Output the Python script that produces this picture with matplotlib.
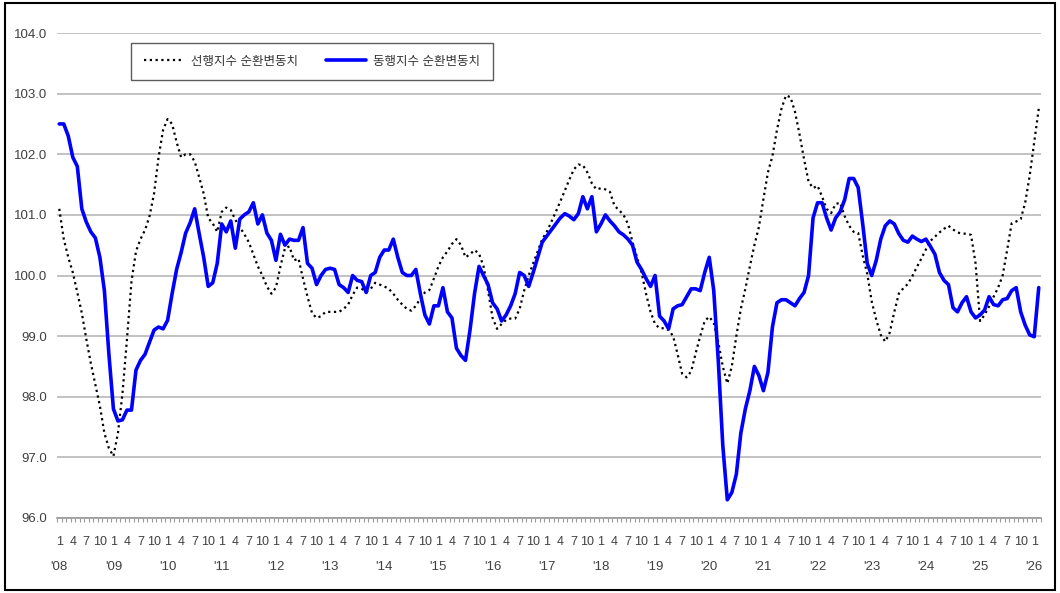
import matplotlib
matplotlib.use('Agg')
import matplotlib.pyplot as plt
import matplotlib.transforms as mtransforms
from matplotlib import font_manager
from matplotlib.patches import Rectangle
import numpy as np

# 좁은 글꼴이 있으면 사용, 없으면 Liberation Sans
installed = {f.name for f in font_manager.fontManager.ttflist}
narrow = 'Liberation Sans Narrow' if 'Liberation Sans Narrow' in installed else 'Liberation Sans'
tick_size = 10.5 if narrow == 'Liberation Sans Narrow' else 9
plt.rcParams['font.family'] = [narrow, 'Noto Sans CJK KR', 'DejaVu Sans']

# 월별 순환변동치, 2008.1 ~ 2026.2
start_year = 2008
leading_label = '선행지수 순환변동치'
coincident_label = '동행지수 순환변동치'

leading = [
    101.1, 100.6, 100.3, 100.05, 99.72, 99.38, 98.95, 98.55, 98.2, 97.85, 97.4, 97.15,      # 2008
    97.02, 97.4, 98.05, 98.95, 99.9, 100.4, 100.6, 100.75, 100.98, 101.35, 101.95, 102.4,    # 2009
    102.58, 102.5, 102.2, 101.95, 102.0, 102.0, 101.88, 101.62, 101.35, 100.95, 100.86, 100.72,  # 2010
    101.05, 101.12, 101.08, 100.92, 100.8, 100.68, 100.55, 100.35, 100.15, 100.0, 99.82, 99.7,  # 2011
    99.8, 100.15, 100.45, 100.48, 100.25, 100.28, 99.95, 99.65, 99.38, 99.3, 99.33, 99.4,   # 2012
    99.4, 99.4, 99.4, 99.45, 99.52, 99.68, 99.8, 99.78, 99.73, 99.78, 99.88, 99.85,        # 2013
    99.82, 99.78, 99.7, 99.6, 99.52, 99.45, 99.42, 99.5, 99.62, 99.72, 99.76, 99.95,       # 2014
    100.15, 100.3, 100.4, 100.52, 100.6, 100.5, 100.3, 100.35, 100.42, 100.36, 100.15, 99.75,  # 2015
    99.3, 99.12, 99.2, 99.27, 99.29, 99.29, 99.45, 99.75, 100.0, 100.2, 100.4, 100.6,      # 2016
    100.72, 100.88, 101.05, 101.22, 101.4, 101.58, 101.75, 101.83, 101.82, 101.7, 101.52, 101.42,  # 2017
    101.44, 101.42, 101.38, 101.15, 101.08, 101.0, 100.85, 100.55, 100.3, 100.05, 99.7, 99.4,  # 2018
    99.2, 99.13, 99.13, 99.1, 99.0, 98.7, 98.38, 98.32, 98.42, 98.72, 99.0, 99.25,         # 2019
    99.32, 99.22, 98.9, 98.5, 98.22, 98.5, 99.0, 99.45, 99.78, 100.15, 100.5, 100.8,       # 2020
    101.26, 101.7, 101.97, 102.4, 102.75, 102.97, 102.94, 102.7, 102.33, 101.92, 101.55, 101.44,  # 2021
    101.48, 101.3, 101.1, 101.03, 101.18, 101.2, 100.98, 100.82, 100.72, 100.7, 100.33, 100.03,  # 2022
    99.57, 99.27, 99.02, 98.91, 99.06, 99.4, 99.7, 99.79, 99.86, 99.99, 100.14, 100.28,     # 2023
    100.43, 100.57, 100.64, 100.71, 100.77, 100.82, 100.76, 100.71, 100.69, 100.69, 100.67, 100.2,  # 2024
    99.25, 99.35, 99.49, 99.65, 99.8, 100.0, 100.42, 100.86, 100.89, 100.93, 101.2, 101.65,  # 2025
    102.2, 102.75,                                                                           # 2026
]

coincident = [
    102.5, 102.5, 102.3, 101.95, 101.8, 101.1, 100.88, 100.72, 100.62, 100.3, 99.75, 98.7,  # 2008
    97.8, 97.6, 97.62, 97.78, 97.78, 98.44, 98.6, 98.7, 98.9, 99.1, 99.15, 99.12,           # 2009
    99.26, 99.7, 100.1, 100.38, 100.7, 100.87, 101.1, 100.69, 100.3, 99.82, 99.88, 100.2,   # 2010
    100.85, 100.72, 100.9, 100.45, 100.93, 101.0, 101.05, 101.2, 100.85, 101.0, 100.7, 100.58,  # 2011
    100.25, 100.68, 100.5, 100.6, 100.58, 100.58, 100.79, 100.2, 100.12, 99.85, 100.0, 100.1,  # 2012
    100.12, 100.1, 99.85, 99.8, 99.72, 100.0, 99.92, 99.9, 99.72, 100.0, 100.05, 100.3,     # 2013
    100.42, 100.42, 100.6, 100.3, 100.05, 100.0, 100.0, 100.1, 99.7, 99.35, 99.2, 99.5,     # 2014
    99.5, 99.8, 99.4, 99.3, 98.8, 98.68, 98.6, 99.1, 99.7, 100.15, 100.0, 99.85,            # 2015
    99.55, 99.45, 99.25, 99.35, 99.5, 99.7, 100.05, 100.0, 99.82, 100.05, 100.3, 100.55,    # 2016
    100.65, 100.75, 100.85, 100.95, 101.02, 100.98, 100.92, 101.02, 101.3, 101.1, 101.3, 100.72,  # 2017
    100.85, 101.0, 100.9, 100.82, 100.72, 100.67, 100.6, 100.5, 100.22, 100.1, 99.95, 99.82,  # 2018
    100.0, 99.33, 99.25, 99.12, 99.45, 99.5, 99.52, 99.65, 99.78, 99.78, 99.75, 100.05,     # 2019
    100.3, 99.75, 98.6, 97.2, 96.3, 96.42, 96.72, 97.4, 97.8, 98.1, 98.5, 98.35,            # 2020
    98.1, 98.4, 99.15, 99.55, 99.6, 99.6, 99.55, 99.5, 99.62, 99.72, 100.0, 100.95,         # 2021
    101.2, 101.2, 100.95, 100.75, 100.95, 101.05, 101.25, 101.6, 101.6, 101.45, 100.85, 100.2,  # 2022
    100.0, 100.25, 100.6, 100.82, 100.9, 100.85, 100.69, 100.58, 100.55, 100.65, 100.6, 100.56,  # 2023
    100.6, 100.48, 100.35, 100.05, 99.92, 99.85, 99.47, 99.4, 99.55, 99.65, 99.4, 99.3,     # 2024
    99.35, 99.43, 99.65, 99.52, 99.5, 99.6, 99.62, 99.75, 99.8, 99.4, 99.18, 99.02,         # 2025
    98.99, 99.8,                                                                             # 2026
]

y_ticks = [96.0, 97.0, 98.0, 99.0, 100.0, 101.0, 102.0, 103.0, 104.0]
month_marks = [1, 4, 7, 10]

n = len(leading)
x = np.arange(n)

W, H = 1060, 593
fig = plt.figure(figsize=(W / 100, H / 100), dpi=100)
ax = fig.add_axes([57 / W, 1 - 518 / H, (1041 - 57) / W, (518 - 33) / H])

# 그리드
for v in y_ticks:
    ax.axhline(v, color='#bdbdbd', lw=1.3, zorder=0)

ax.plot(x, leading, color='black', lw=1.6, ls=(0, (1, 1.6)), label=leading_label, zorder=2)
ax.plot(x, coincident, color='#0000ff', lw=2.6, solid_joinstyle='round',
        solid_capstyle='round', label=coincident_label, zorder=3)

ax.set_xlim(-0.5, n - 0.5)
ax.set_ylim(96, 104)

ax.set_yticks(y_ticks)
ax.set_yticklabels([f'{v:.1f}' for v in y_ticks])
ax.tick_params(axis='y', length=0, pad=7, labelsize=tick_size + 0.5, labelcolor='#404040')

# x축: 월 라벨(1,4,7,10)과 월 경계 눈금
pos = [i for i in range(n) if (i % 12) + 1 in month_marks]
ax.set_xticks(pos)
ax.set_xticklabels([str((i % 12) + 1) for i in pos])
ax.set_xticks(np.arange(n + 1) - 0.5, minor=True)
ax.tick_params(axis='x', which='major', length=0, pad=13, labelsize=tick_size, labelcolor='#404040')
ax.tick_params(axis='x', which='minor', length=3, width=0.8, color='#9a9a9a', direction='out')

trans = mtransforms.blended_transform_factory(ax.transData, ax.transAxes)
for i in range(0, n, 12):
    yr = start_year + i // 12
    ax.text(i, -0.1, "'" + str(yr)[2:], transform=trans, ha='center', va='center',
            fontsize=tick_size + 0.5, color='#404040')

for s in ['top', 'right', 'left']:
    ax.spines[s].set_visible(False)
ax.spines['bottom'].set_color('#9a9a9a')
ax.spines['bottom'].set_linewidth(1.2)

leg = ax.legend(loc='upper left', bbox_to_anchor=(131 / W, 1 - 43 / H), bbox_transform=fig.transFigure,
                ncol=2, frameon=True, fancybox=False, edgecolor='#333333', fontsize=9,
                handlelength=3.2, handletextpad=0.6, columnspacing=2.2, borderpad=1.0,
                borderaxespad=0)
leg.get_frame().set_linewidth(1.0)
for t in leg.get_texts():
    t.set_color('#333333')

# 바깥 테두리
fig.patches.append(Rectangle((5 / W, 3 / H), (1055 - 5) / W, (590 - 3) / H, transform=fig.transFigure,
                             fill=False, edgecolor='black', lw=1.5))

fig.savefig('out.png', dpi=100)
